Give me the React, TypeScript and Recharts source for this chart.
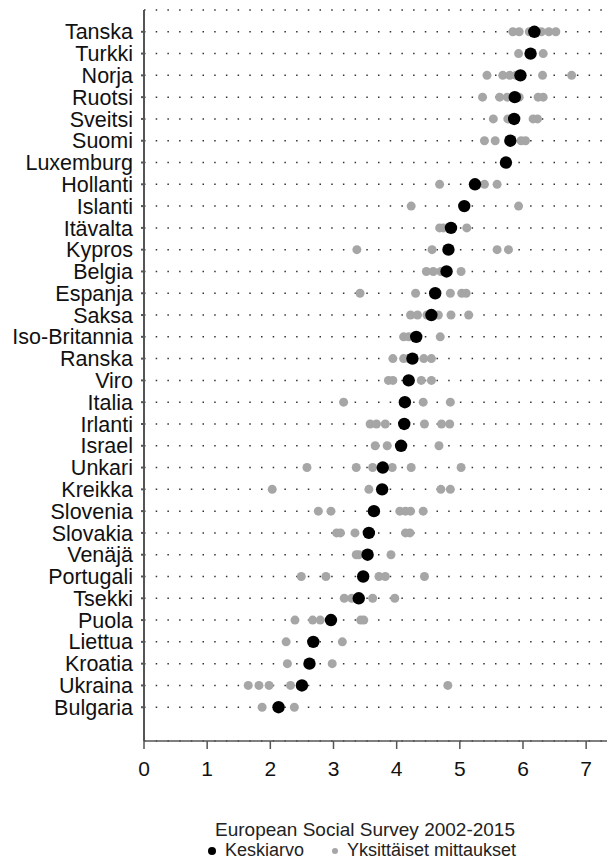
import { ScatterChart, Scatter, XAxis, YAxis, CartesianGrid } from 'recharts'

// maat ylhäältä alas
const countries = [
    'Tanska', 'Turkki', 'Norja', 'Ruotsi', 'Sveitsi', 'Suomi', 'Luxemburg', 'Hollanti',
    'Islanti', 'Itävalta', 'Kypros', 'Belgia', 'Espanja', 'Saksa', 'Iso-Britannia', 'Ranska',
    'Viro', 'Italia', 'Irlanti', 'Israel', 'Unkari', 'Kreikka', 'Slovenia', 'Slovakia',
    'Venäjä', 'Portugali', 'Tsekki', 'Puola', 'Liettua', 'Kroatia', 'Ukraina', 'Bulgaria',
]

const means = [
    6.18, 6.12, 5.96, 5.87, 5.86, 5.80, 5.73, 5.24,
    5.07, 4.86, 4.82, 4.79, 4.61, 4.55, 4.31, 4.25,
    4.19, 4.13, 4.12, 4.07, 3.78, 3.77, 3.64, 3.56,
    3.54, 3.47, 3.40, 2.96, 2.68, 2.62, 2.50, 2.13,
]

const measurements = [
    [5.84, 5.94, 6.10, 6.29, 6.41, 6.52],
    [5.93, 6.32],
    [5.43, 5.68, 5.79, 5.89, 6.31, 6.77],
    [5.36, 5.63, 5.75, 5.94, 6.24, 6.32],
    [5.53, 5.76, 5.84, 6.16, 6.23],
    [5.39, 5.56, 5.97, 6.04],
    [],
    [4.68, 5.39, 5.59],
    [4.23, 5.93],
    [4.68, 4.74, 5.11],
    [3.37, 4.56, 5.59, 5.77],
    [4.47, 4.58, 4.70, 5.02],
    [3.42, 4.30, 4.85, 5.03, 5.10],
    [4.22, 4.33, 4.48, 4.66, 4.86, 5.14],
    [4.11, 4.19, 4.69],
    [3.94, 4.11, 4.19, 4.43, 4.55],
    [3.87, 3.94, 4.39, 4.55],
    [3.16, 4.42, 4.85],
    [3.58, 3.68, 3.82, 4.44, 4.71, 4.84],
    [3.66, 3.85, 4.67],
    [2.58, 3.36, 3.62, 3.93, 4.23, 5.02],
    [2.03, 3.56, 4.70, 4.85],
    [2.76, 2.96, 4.05, 4.14, 4.22, 4.42],
    [3.05, 3.11, 3.34, 4.14, 4.21],
    [3.36, 3.40, 3.91],
    [2.49, 2.88, 3.72, 3.82, 4.44],
    [3.17, 3.29, 3.62, 3.97],
    [2.39, 2.67, 2.79, 3.43, 3.48],
    [2.25, 3.14],
    [2.27, 2.98],
    [1.65, 1.82, 1.98, 2.32, 4.81],
    [1.87, 2.38],
]

const xTicks = [0, 1, 2, 3, 4, 5, 6, 7]

const rowTicks = countries.map((_, i) => i + 1)
const meanData = means.map((v, i) => ({ x: v, y: i + 1 }))
const pointData = measurements.flatMap((list, i) => list.map(v => ({ x: v, y: i + 1 })))

const FONT = '"Liberation Sans", Arial, Helvetica, sans-serif'

const dot = (r: number, fill: string) => (props: any) => (
    <circle cx={props.cx} cy={props.cy} r={r} fill={fill} />
)

export default function App() {
    return (
        <div style={{ position: 'absolute', left: 0, top: 0, width: 607, height: 859, background: '#fff', fontFamily: FONT, overflow: 'hidden' }}>
            <ScatterChart width={607} height={859} margin={{ top: 10, right: 0, bottom: 88, left: 0 }}>
                <CartesianGrid horizontal vertical={false} stroke="#333" strokeWidth={1.5} strokeDasharray="1.5 10.2" />
                <XAxis
                    type="number" dataKey="x" domain={[0, 7.33]} ticks={xTicks} allowDataOverflow
                    height={30} stroke="#555" strokeWidth={1.5} tickSize={8} tickMargin={12}
                    tick={{ fill: '#111', fontSize: 21, fontFamily: FONT }}
                />
                <YAxis
                    type="number" dataKey="y" domain={[0, 33.55]} reversed ticks={rowTicks} interval={0}
                    width={144} stroke="#555" strokeWidth={2} tickSize={3} tickMargin={8}
                    tickFormatter={(v: number) => countries[v - 1] ?? ''}
                    tick={{ fill: '#111', fontSize: 21.5, fontFamily: FONT }}
                />
                <Scatter data={pointData} fill="#a6a6a6" shape={dot(4.5, '#a6a6a6')} isAnimationActive={false} />
                <Scatter data={meanData} fill="#000" shape={dot(6.2, '#000')} isAnimationActive={false} />
            </ScatterChart>

            {/* otsikko ja selite */}
            <div style={{ position: 'absolute', left: 365, top: 820, transform: 'translateX(-50%)', fontSize: 19, color: '#222', whiteSpace: 'nowrap', lineHeight: '20px' }}>
                European Social Survey 2002-2015
            </div>
            <div style={{ position: 'absolute', left: 208, top: 842, height: 17, fontSize: 18, color: '#222', whiteSpace: 'nowrap', lineHeight: '17px', display: 'flex', alignItems: 'center' }}>
                <span style={{ width: 8, height: 8, borderRadius: 4, background: '#000', display: 'inline-block', marginRight: 9 }} />
                <span>Keskiarvo</span>
                <span style={{ width: 6, height: 6, borderRadius: 3, background: '#a6a6a6', display: 'inline-block', marginLeft: 28, marginRight: 9 }} />
                <span>Yksittäiset mittaukset</span>
            </div>
        </div>
    )
}
